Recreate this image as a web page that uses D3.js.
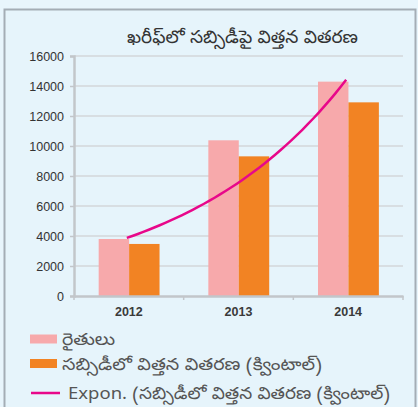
<!DOCTYPE html>
<html><head><meta charset="utf-8">
<script src="https://cdn.jsdelivr.net/npm/d3@7"></script>
<style>
html,body{margin:0;padding:0;background:#e8f5fc;}
svg{display:block;}
</style></head>
<body>
<script>
const title = "ఖరీఫ్‌లో సబ్సిడీపై విత్తన వితరణ";
const categories = ["2012", "2013", "2014"];
const farmers = [3800, 10380, 14290];
const seedQuintals = [3470, 9310, 12910];
const seriesNames = ["రైతులు", "సబ్సిడీలో విత్తన వితరణ (క్వింటాల్)", "Expon. (సబ్సిడీలో విత్తన వితరణ (క్వింటాల్)"];
const seriesColors = ["#f7a9ab", "#f28323", "#e8078a"];
const yTicks = [0, 2000, 4000, 6000, 8000, 10000, 12000, 14000, 16000];

(function () {
const W = 418, H = 407;
const teluguFont = "'Noto Sans Telugu','Gautami','Pothana2000','Lohit Telugu','Liberation Sans',Arial,sans-serif";
const svg = d3.select("body").append("svg").attr("width", W).attr("height", H);

svg.append("rect").attr("width", W).attr("height", H).attr("fill", "#e8f5fc");
svg.append("rect").attr("x", 4.5).attr("y", 9.5).attr("width", 411).attr("height", 410)
  .attr("fill", "#e6f4fb").attr("stroke", "#a4adb5").attr("stroke-width", 2);

svg.append("text").attr("x", 127).attr("y", 43)
  .attr("font-family", teluguFont).attr("font-size", 18).attr("fill", "#333")
  .attr("textLength", 231).attr("lengthAdjust", "spacingAndGlyphs")
  .text(title);

const pl = 74, pr = 403, pt = 56, pb = 296;
const x = d3.scaleBand().domain(categories).range([pl, pr]).padding(0);
const bw = x.bandwidth();
const xs = d3.scaleBand().domain([0, 1]).range([bw * 0.225, bw * 0.78]).padding(0);
const y = d3.scaleLinear().domain([0, 16000]).range([pb, pt]);

svg.append("g").selectAll("line").data(yTicks.slice(1)).join("line")
  .attr("x1", pl).attr("x2", pr).attr("y1", d => y(d)).attr("y2", d => y(d))
  .attr("stroke", "#d3d7da").attr("stroke-width", 1.5);

const yAxis = svg.append("g").attr("transform", `translate(${pl},0)`)
  .call(d3.axisLeft(y).tickValues(yTicks).tickSize(4).tickPadding(6).tickFormat(d3.format("d")));
yAxis.select(".domain").attr("stroke", "#c2c6ca").attr("stroke-width", 2.5);
yAxis.selectAll(".tick line").attr("stroke", "#c2c6ca").attr("stroke-width", 1.5);
yAxis.selectAll("text").attr("font-family", "'Liberation Sans',Arial,sans-serif").attr("font-size", 12.5).attr("fill", "#333");

const groups = svg.append("g").selectAll("g").data(categories).join("g")
  .attr("transform", d => `translate(${x(d)},0)`);
groups.append("rect").attr("x", xs(0)).attr("width", xs.bandwidth())
  .attr("y", (d, i) => y(farmers[i])).attr("height", (d, i) => y(0) - y(farmers[i]))
  .attr("fill", seriesColors[0]);
groups.append("rect").attr("x", xs(1)).attr("width", xs.bandwidth())
  .attr("y", (d, i) => y(seedQuintals[i])).attr("height", (d, i) => y(0) - y(seedQuintals[i]))
  .attr("fill", seriesColors[1]);

const xAxis = svg.append("g").attr("transform", `translate(0,${pb})`)
  .call(d3.axisBottom(x).tickSize(0).tickPadding(11));
xAxis.select(".domain").attr("stroke", "#c2c6ca").attr("stroke-width", 2.5);
xAxis.selectAll("text").attr("font-family", "'Liberation Sans',Arial,sans-serif").attr("font-size", 12.5)
  .attr("font-weight", "bold").attr("fill", "#3a3a3a");
svg.append("g").selectAll("line").data([pl, x("2013"), x("2014"), pr]).join("line")
  .attr("x1", d => d).attr("x2", d => d).attr("y1", pb).attr("y2", pb + 4)
  .attr("stroke", "#c2c6ca").attr("stroke-width", 1.5);

// exponential trendline (least squares fit on log of the orange series)
const n = seedQuintals.length;
const xi = d3.range(1, n + 1);
const logv = seedQuintals.map(v => Math.log(v));
const mx = d3.mean(xi), my = d3.mean(logv);
const slope = d3.sum(xi, (v, i) => (v - mx) * (logv[i] - my)) / d3.sum(xi, v => (v - mx) * (v - mx));
const icpt = my - slope * mx;
const trendX = d3.scaleLinear().domain([1, n]).range([x(categories[0]) + bw / 2 - 2, x(categories[n - 1]) + bw / 2 - 2]);
const pts = d3.range(1, n + 0.0001, 0.05).map(t => [trendX(t), y(Math.exp(icpt + slope * t))]);
svg.append("path").attr("d", d3.line()(pts)).attr("fill", "none")
  .attr("stroke", seriesColors[2]).attr("stroke-width", 2.5);

const leg = svg.append("g");
const legY = [339, 363.5, 393];
const legX = [62, 62, 68];
const legW = [53, 260, 322];
leg.append("rect").attr("x", 30).attr("y", legY[0] - 4.5).attr("width", 27).attr("height", 9).attr("fill", seriesColors[0]);
leg.append("rect").attr("x", 30).attr("y", legY[1] - 4.5).attr("width", 27).attr("height", 9).attr("fill", seriesColors[1]);
leg.append("line").attr("x1", 31).attr("x2", 60).attr("y1", legY[2]).attr("y2", legY[2])
  .attr("stroke", seriesColors[2]).attr("stroke-width", 2.5);
leg.selectAll("text").data(seriesNames).join("text")
  .attr("x", (d, i) => legX[i]).attr("y", (d, i) => legY[i] + 6)
  .attr("font-family", teluguFont).attr("font-size", 17).attr("fill", "#555")
  .attr("textLength", (d, i) => legW[i]).attr("lengthAdjust", "spacingAndGlyphs")
  .text(d => d);
})();
</script>
</body></html>
